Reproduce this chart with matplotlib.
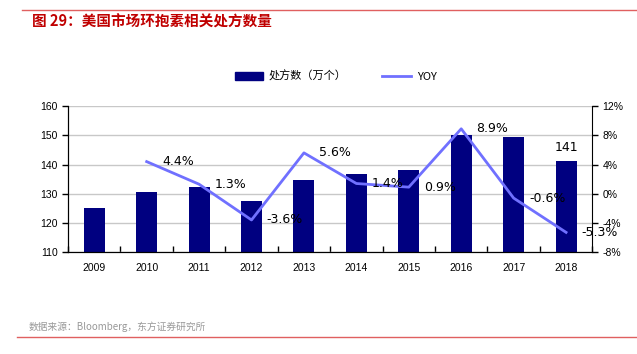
import numpy as np
import matplotlib
matplotlib.use("Agg")
from matplotlib import pyplot as plt
from matplotlib.lines import Line2D
from matplotlib.patches import Patch

plt.rcParams["font.family"] = ["Noto Sans CJK SC", "DejaVu Sans"]

years = ["2009", "2010", "2011", "2012", "2013", "2014", "2015", "2016", "2017", "2018"]
scripts = [125.2, 130.7, 132.3, 127.6, 134.8, 136.7, 138.1, 150.2, 149.3, 141.3]
yoy_years = years[1:]
yoy = [4.4, 1.3, -3.6, 5.6, 1.4, 0.9, 8.9, -0.6, -5.3]
yoy_labels = ["4.4%", "1.3%", "-3.6%", "5.6%", "1.4%", "0.9%", "8.9%", "-0.6%", "-5.3%"]

fig = plt.figure(figsize=(6.37, 3.54), dpi=100)
ax = fig.add_axes([0.1068, 0.288, 0.823, 0.412])
x = np.arange(len(years))

# bars
ax.bar(x, scripts, width=0.4, color="#000080", zorder=2)
ax.set_ylim(110, 160)
ax.set_xlim(-0.5, len(years) - 0.5)
ax.set_yticks(np.arange(110, 161, 10))
ax.grid(axis="y", color="#c8c8c8", linewidth=1, zorder=0)
ax.set_xticks(x)
ax.set_xticklabels(years, fontsize=7.5, family=["Liberation Sans"])
ax.set_xticks(np.arange(-0.5, len(years), 1), minor=True)
ax.tick_params(axis="x", which="major", length=0, pad=8)
ax.tick_params(axis="x", which="minor", length=4, direction="in", width=1)
ax.tick_params(axis="y", length=4, width=1, labelsize=7.5)
for lab in ax.get_yticklabels():
    lab.set_family(["Liberation Sans"])
ax.spines["top"].set_visible(False)
ax.spines["right"].set_visible(False)

ax.annotate("141", (x[-1], scripts[-1]), xytext=(0, 5), textcoords="offset points",
            ha="center", va="bottom", fontsize=9, family=["DejaVu Sans"])

# yoy line
ax2 = ax.twinx()
x2 = x[1:]
ax2.plot(x2, yoy, color="#7070ff", linewidth=2, zorder=3)
ax2.set_ylim(-8, 12)
ax2.set_yticks(np.arange(-8, 13, 4))
ax2.set_yticklabels([f"{v}%" for v in range(-8, 13, 4)], fontsize=7.5, family=["Liberation Sans"])
ax2.tick_params(axis="y", length=4, width=1)
ax2.spines["top"].set_visible(False)
for xi, v, lab in zip(x2, yoy, yoy_labels):
    ax2.annotate(lab, (xi, v), xytext=(11, 0), textcoords="offset points",
                 ha="left", va="center", fontsize=9, family=["DejaVu Sans"])

# legend
handles = [Patch(color="#000080"), Line2D([0], [0], color="#7070ff", linewidth=2)]
fig.legend(handles, ["处方数（万个）", "YOY"], loc="center", bbox_to_anchor=(0.527, 0.785),
           ncol=2, frameon=False, fontsize=8, handlelength=2.6, handletextpad=0.5,
           columnspacing=3.2)

# title and source
fig.text(0.05, 0.94, "图 29：美国市场环抱素相关处方数量", color="#c00000",
         fontsize=10.5, fontweight="bold", va="center")
fig.add_artist(Line2D([0.035, 1.0], [0.972, 0.972], color="#e06060", linewidth=1))
fig.text(0.045, 0.078, "数据来源：Bloomberg，东方证券研究所", color="#999999",
         fontsize=7, va="center")
fig.add_artist(Line2D([0.027, 1.0], [0.048, 0.048], color="#e06060", linewidth=1))

plt.savefig("out.png", dpi=100)
